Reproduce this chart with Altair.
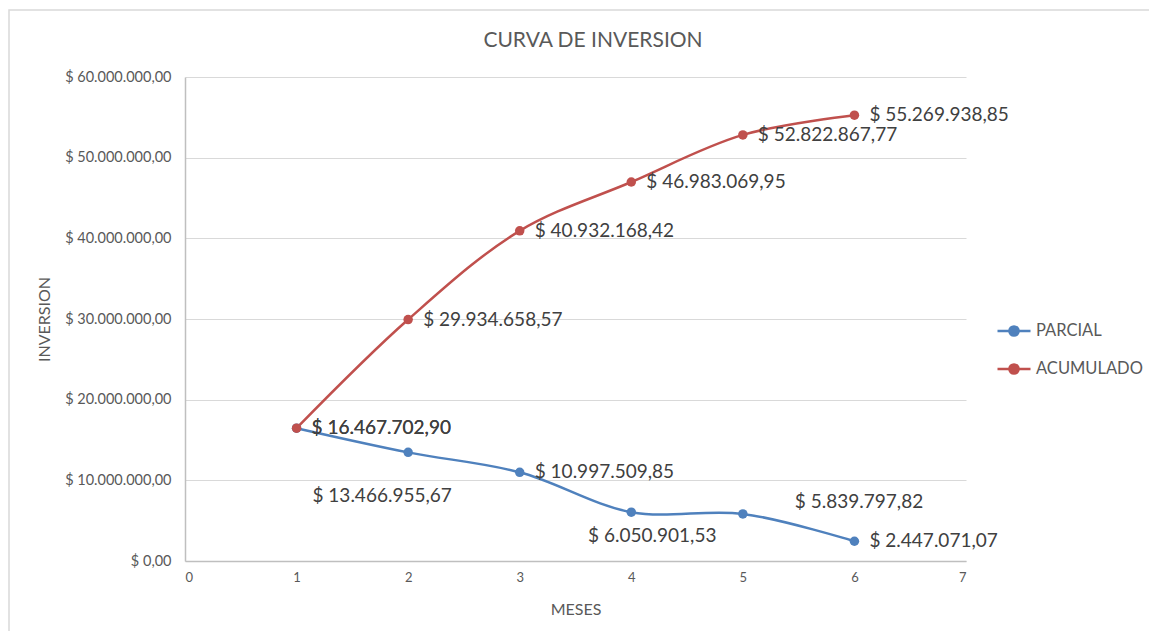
import altair as alt
import pandas as pd

meses = [1, 2, 3, 4, 5, 6]
parcial = [16467702.90, 13466955.67, 10997509.85, 6050901.53, 5839797.82, 2447071.07]
acumulado = [16467702.90, 29934658.57, 40932168.42, 46983069.95, 52822867.77, 55269938.85]
series = ["PARCIAL", "ACUMULADO"]
colores = ["#4F81BD", "#C0504D"]
x_ticks = [0, 1, 2, 3, 4, 5, 6, 7]
y_ticks = [0, 10000000, 20000000, 30000000, 40000000, 50000000, 60000000]
titulo = "CURVA DE INVERSION"

rows = []
for m, v in zip(meses, parcial):
    rows.append({"mes": m, "valor": v, "serie": "PARCIAL"})
for m, v in zip(meses, acumulado):
    rows.append({"mes": m, "valor": v, "serie": "ACUMULADO"})
df = pd.DataFrame(rows)

FONT = "Lato"
TXT = "#595959"

x_enc = alt.X("mes:Q", scale=alt.Scale(domain=[0, 7], nice=False),
              axis=alt.Axis(values=x_ticks, format="d", title="MESES", grid=False, ticks=False,
                            labelFontSize=13, labelPadding=10, titleFontSize=16,
                            titlePadding=17, titleFontWeight="normal"))
y_enc = alt.Y("valor:Q", scale=alt.Scale(domain=[0, 60000000], nice=False),
              axis=alt.Axis(values=y_ticks, title="INVERSION", format="$,.2f", ticks=False,
                            labelFontSize=14.5, labelPadding=14, titleFontSize=16,
                            titlePadding=12, titleFontWeight="normal"))
color_scale = alt.Scale(domain=series, range=colores)
legend = alt.Legend(title=None, orient="none", legendX=811, legendY=236,
                    symbolType="M-1,0L1,0M-0.28,0A0.28,0.28,0,1,1,0.28,0A0.28,0.28,0,1,1,-0.28,0Z",
                    symbolSize=1089, symbolStrokeWidth=2.5,
                    labelFontSize=16.5, labelColor=TXT, labelFont=FONT,
                    labelOffset=4, rowPadding=10)

base = alt.Chart(df)

lines = base.mark_line(interpolate="catmull-rom", strokeWidth=2.5).encode(
    x=x_enc, y=y_enc,
    color=alt.Color("serie:N", scale=color_scale, legend=legend),
)

points = base.mark_point(filled=True, size=90, opacity=1).encode(
    x="mes:Q", y="valor:Q",
    color=alt.Color("serie:N", scale=color_scale, legend=legend),
)

def labels(cond, **kw):
    return base.transform_filter(cond).mark_text(
        font=FONT, fontSize=19, color="#404040", baseline="middle", **kw
    ).encode(x="mes:Q", y="valor:Q", text=alt.Text("valor:Q", format="$,.2f"))

lab_right = labels("datum.serie == 'ACUMULADO' || indexof([1, 3, 6], datum.mes) >= 0",
                   align="left", dx=15)
lab_p2 = labels("datum.serie == 'PARCIAL' && datum.mes == 2", align="center", dx=-26, dy=44)
lab_p4 = labels("datum.serie == 'PARCIAL' && datum.mes == 4", align="center", dx=21, dy=24)
lab_p5 = labels("datum.serie == 'PARCIAL' && datum.mes == 5", align="left", dx=52, dy=-12)

deco = alt.Chart(alt.Data(values=[{"t": titulo}]))
frame = deco.mark_rect(
    fill="transparent", stroke="#d9d9d9", strokeWidth=1.5
).encode(x=alt.value(-176), x2=alt.value(1100), y=alt.value(-67), y2=alt.value(700))
title = deco.mark_text(font=FONT, fontSize=21, color=TXT, align="center", baseline="middle").encode(
    x=alt.value(408), y=alt.value(-36), text="t:N")

chart = alt.layer(frame, title, lines, points, lab_right, lab_p2, lab_p4, lab_p5).properties(
    width=781, height=484,
    autosize="none",
    padding={"left": 177, "top": 69, "right": 183, "bottom": 70},
).configure(
    locale=alt.Locale(number=alt.NumberLocale(decimal=",", thousands=".", grouping=[3],
                                              currency=["$ ", ""])),
    font=FONT,
).configure_axis(
    labelColor=TXT, titleColor=TXT, labelFont=FONT, titleFont=FONT,
    domainColor="#bfbfbf", gridColor="#d9d9d9", domainWidth=1.5,
).configure_view(stroke=None)

chart.save("out.html", embed_options={"renderer": "svg", "actions": False})
